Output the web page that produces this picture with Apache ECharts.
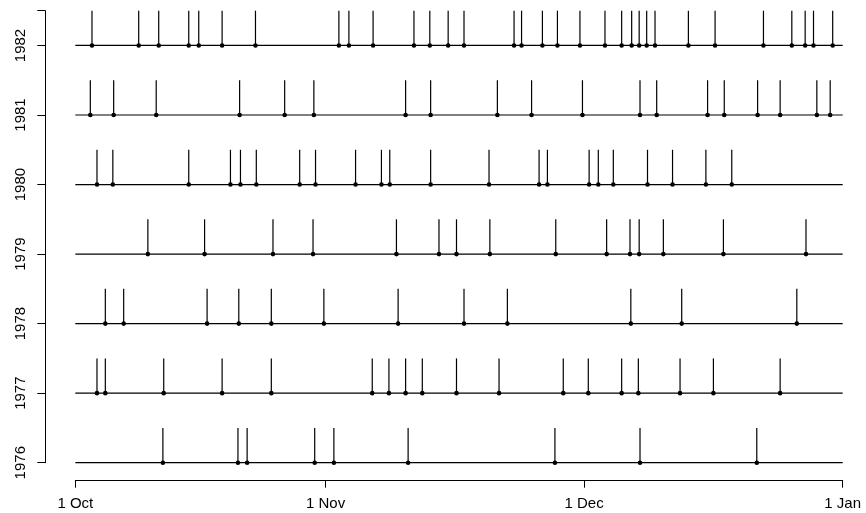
<!DOCTYPE html>
<html>
<head>
<meta charset="utf-8">
<script src="https://cdn.jsdelivr.net/npm/echarts@6/dist/echarts.min.js"></script>
<style>
html,body{margin:0;padding:0;background:#fff;}
#chart{width:866px;height:513px;}
</style>
</head>
<body>
<div id="chart"></div>
<script>
// Days since 1 Oct for each event, per year
const years = [1976, 1977, 1978, 1979, 1980, 1981, 1982];
const events1976 = [10.5, 19.5, 20.6, 28.7, 31.0, 39.9, 57.5, 67.7, 81.7];
const events1977 = [2.6, 3.6, 10.6, 17.6, 23.5, 35.6, 37.6, 39.6, 41.6, 45.7, 50.8, 58.5, 61.5, 65.5, 67.5, 72.5, 76.5, 84.5];
const events1978 = [3.6, 5.8, 15.8, 19.6, 23.5, 29.8, 38.7, 46.6, 51.8, 66.6, 72.7, 86.5];
const events1979 = [8.7, 15.5, 23.7, 28.5, 38.5, 43.6, 45.7, 49.7, 57.6, 63.7, 66.5, 67.6, 70.5, 77.7, 87.6];
const events1980 = [2.6, 4.5, 13.6, 18.6, 19.8, 21.7, 26.9, 28.8, 33.6, 36.7, 37.7, 42.6, 49.6, 55.6, 56.6, 61.6, 62.7, 64.5, 68.6, 71.6, 75.6, 78.7];
const events1981 = [1.8, 4.6, 9.7, 19.7, 25.1, 28.6, 39.6, 42.6, 50.6, 54.7, 60.8, 67.7, 69.7, 75.8, 77.8, 81.8, 84.5, 88.9, 90.5];
const events1982 = [2.0, 7.6, 10.0, 13.6, 14.8, 17.6, 21.6, 31.6, 32.8, 35.7, 40.6, 42.5, 44.7, 46.6, 52.6, 53.5, 56.0, 57.8, 60.5, 63.5, 65.5, 66.7, 67.6, 68.5, 69.5, 73.5, 76.7, 82.5, 85.9, 87.5, 88.5, 90.8];
const eventsByYear = [events1976, events1977, events1978, events1979, events1980, events1981, events1982];

const xMin = 0, xMax = 92;
const xTickValues = [0, 30, 61, 92];
const xTickLabels = ['1 Oct', '1 Nov', '1 Dec', '1 Jan'];
const yMin = 1976, yMax = 1982.5;
const yTickValues = [1976, 1977, 1978, 1979, 1980, 1981, 1982, 1982.5];
const yLabelValues = [1976, 1977, 1978, 1979, 1980, 1981, 1982];
const spikeHeight = 0.5;

const spikeData = [];
years.forEach((y, i) => eventsByYear[i].forEach(d => spikeData.push([d, y])));
const rowData = years.map(y => [y]);

const font = 'Liberation Sans, Arial, Helvetica, sans-serif';
const chart = echarts.init(document.getElementById('chart'), null, {renderer: 'canvas'});
chart.setOption({
  animation: false,
  backgroundColor: '#fff',
  grid: {left: 75.3, right: 23.3, top: 10.7, bottom: 50.3, containLabel: false, outerBoundsMode: 'none'},
  xAxis: {
    type: 'value', min: xMin, max: xMax, offset: 18, position: 'bottom',
    splitLine: {show: false},
    axisLine: {show: true, onZero: false, lineStyle: {color: '#000', width: 1}},
    axisTick: {show: true, customValues: xTickValues, length: 7, lineStyle: {color: '#000', width: 1}},
    axisLabel: {
      customValues: xTickValues, margin: 16, fontSize: 15, color: '#000', fontFamily: font,
      formatter: v => xTickLabels[xTickValues.indexOf(v)]
    }
  },
  yAxis: {
    type: 'value', min: yMin, max: yMax, offset: 30, position: 'left',
    splitLine: {show: false},
    axisLine: {show: true, onZero: false, lineStyle: {color: '#000', width: 1}},
    axisTick: {show: true, customValues: yTickValues, length: 8, lineStyle: {color: '#000', width: 1}},
    axisLabel: {
      customValues: yLabelValues, rotate: 90, margin: 17, fontSize: 15, color: '#000', fontFamily: font,
      formatter: v => String(v)
    }
  },
  series: [
    {
      type: 'custom', data: rowData, silent: true, clip: false,
      renderItem: (params, api) => {
        const y = api.value(0);
        const p1 = api.coord([xMin, y]);
        const p2 = api.coord([xMax, y]);
        return {type: 'line', shape: {x1: p1[0], y1: p1[1], x2: p2[0], y2: p2[1]},
          style: {stroke: '#000', lineWidth: 1.2}};
      }
    },
    {
      type: 'custom', data: spikeData, silent: true, clip: false,
      renderItem: (params, api) => {
        const d = api.value(0), y = api.value(1);
        const b = api.coord([d, y]);
        const t = api.coord([d, y + spikeHeight]);
        return {type: 'group', children: [
          {type: 'line', shape: {x1: b[0], y1: b[1], x2: t[0], y2: t[1]}, style: {stroke: '#000', lineWidth: 1.2}},
          {type: 'circle', shape: {cx: b[0], cy: b[1], r: 2.3}, style: {fill: '#000'}}
        ]};
      }
    }
  ]
});
</script>
</body>
</html>
